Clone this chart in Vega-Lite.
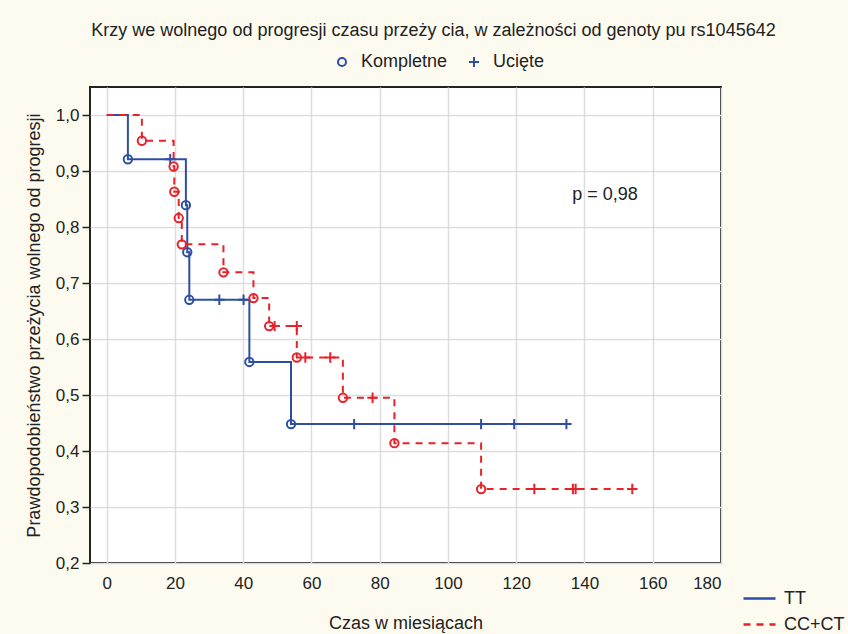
{
  "$schema": "https://vega.github.io/schema/vega-lite/v6.json",
  "width": 631,
  "height": 476,
  "autosize": {"type": "none"},
  "padding": {"left": 90, "top": 87, "right": 127, "bottom": 71},
  "background": "#FDFBF0",
  "config": {
    "view": {"fill": "white", "stroke": "#222222", "strokeWidth": 2},
    "font": "Liberation Sans",
    "axis": {"labelFont": "Liberation Sans", "titleFont": "Liberation Sans", "labelColor": "#222222", "titleColor": "#222222"},
    "legend": {"labelFont": "Liberation Sans", "labelColor": "#222222"}
  },
  "title": {
    "text": "Krzy we wolnego od progresji czasu przeży cia, w zależności od genoty pu rs1045642",
    "fontSize": 18,
    "fontWeight": "normal",
    "color": "#222222",
    "anchor": "middle",
    "frame": "group",
    "dx": 28,
    "offset": 13
  },
  "datasets": {
    "krzywe": [
      {"czas": 0, "p": 1.0, "grupa": "TT"},
      {"czas": 6.2, "p": 0.921, "grupa": "TT"},
      {"czas": 23.2, "p": 0.839, "grupa": "TT"},
      {"czas": 23.6, "p": 0.755, "grupa": "TT"},
      {"czas": 24.2, "p": 0.67, "grupa": "TT"},
      {"czas": 41.8, "p": 0.559, "grupa": "TT"},
      {"czas": 54.0, "p": 0.448, "grupa": "TT"},
      {"czas": 134.7, "p": 0.448, "grupa": "TT"},
      {"czas": 0, "p": 1.0, "grupa": "CC+CT"},
      {"czas": 10.3, "p": 0.954, "grupa": "CC+CT"},
      {"czas": 19.6, "p": 0.908, "grupa": "CC+CT"},
      {"czas": 19.8, "p": 0.863, "grupa": "CC+CT"},
      {"czas": 21.1, "p": 0.816, "grupa": "CC+CT"},
      {"czas": 22.0, "p": 0.769, "grupa": "CC+CT"},
      {"czas": 34.2, "p": 0.719, "grupa": "CC+CT"},
      {"czas": 43.0, "p": 0.673, "grupa": "CC+CT"},
      {"czas": 47.6, "p": 0.623, "grupa": "CC+CT"},
      {"czas": 55.7, "p": 0.567, "grupa": "CC+CT"},
      {"czas": 69.2, "p": 0.495, "grupa": "CC+CT"},
      {"czas": 84.3, "p": 0.414, "grupa": "CC+CT"},
      {"czas": 109.7, "p": 0.332, "grupa": "CC+CT"},
      {"czas": 154.0, "p": 0.332, "grupa": "CC+CT"}
    ],
    "punkty": [
      {"czas": 6.2, "p": 0.921, "grupa": "TT", "typ": "Kompletne"},
      {"czas": 18.6, "p": 0.921, "grupa": "TT", "typ": "Ucięte"},
      {"czas": 23.2, "p": 0.839, "grupa": "TT", "typ": "Kompletne"},
      {"czas": 23.6, "p": 0.755, "grupa": "TT", "typ": "Kompletne"},
      {"czas": 24.2, "p": 0.67, "grupa": "TT", "typ": "Kompletne"},
      {"czas": 33.0, "p": 0.67, "grupa": "TT", "typ": "Ucięte"},
      {"czas": 40.1, "p": 0.67, "grupa": "TT", "typ": "Ucięte"},
      {"czas": 41.8, "p": 0.559, "grupa": "TT", "typ": "Kompletne"},
      {"czas": 54.0, "p": 0.448, "grupa": "TT", "typ": "Kompletne"},
      {"czas": 72.5, "p": 0.448, "grupa": "TT", "typ": "Ucięte"},
      {"czas": 109.7, "p": 0.448, "grupa": "TT", "typ": "Ucięte"},
      {"czas": 119.4, "p": 0.448, "grupa": "TT", "typ": "Ucięte"},
      {"czas": 134.7, "p": 0.448, "grupa": "TT", "typ": "Ucięte"},
      {"czas": 10.3, "p": 0.954, "grupa": "CC+CT", "typ": "Kompletne"},
      {"czas": 19.6, "p": 0.908, "grupa": "CC+CT", "typ": "Kompletne"},
      {"czas": 19.8, "p": 0.863, "grupa": "CC+CT", "typ": "Kompletne"},
      {"czas": 21.1, "p": 0.816, "grupa": "CC+CT", "typ": "Kompletne"},
      {"czas": 22.0, "p": 0.769, "grupa": "CC+CT", "typ": "Kompletne"},
      {"czas": 34.2, "p": 0.719, "grupa": "CC+CT", "typ": "Kompletne"},
      {"czas": 43.0, "p": 0.673, "grupa": "CC+CT", "typ": "Kompletne"},
      {"czas": 47.6, "p": 0.623, "grupa": "CC+CT", "typ": "Kompletne"},
      {"czas": 49.2, "p": 0.623, "grupa": "CC+CT", "typ": "Ucięte"},
      {"czas": 55.7, "p": 0.623, "grupa": "CC+CT", "typ": "Ucięte"},
      {"czas": 55.7, "p": 0.567, "grupa": "CC+CT", "typ": "Kompletne"},
      {"czas": 58.2, "p": 0.567, "grupa": "CC+CT", "typ": "Ucięte"},
      {"czas": 65.5, "p": 0.567, "grupa": "CC+CT", "typ": "Ucięte"},
      {"czas": 69.2, "p": 0.495, "grupa": "CC+CT", "typ": "Kompletne"},
      {"czas": 77.9, "p": 0.495, "grupa": "CC+CT", "typ": "Ucięte"},
      {"czas": 84.3, "p": 0.414, "grupa": "CC+CT", "typ": "Kompletne"},
      {"czas": 109.7, "p": 0.332, "grupa": "CC+CT", "typ": "Kompletne"},
      {"czas": 125.3, "p": 0.332, "grupa": "CC+CT", "typ": "Ucięte"},
      {"czas": 136.6, "p": 0.332, "grupa": "CC+CT", "typ": "Ucięte"},
      {"czas": 137.4, "p": 0.332, "grupa": "CC+CT", "typ": "Ucięte"},
      {"czas": 154.0, "p": 0.332, "grupa": "CC+CT", "typ": "Ucięte"}
    ],
    "adnotacja": [
      {"czas": 146, "p": 0.857, "tekst": "p = 0,98"}
    ]
  },
  "layer": [
    {
      "data": {"name": "krzywe"},
      "mark": {"type": "line", "interpolate": "step-after", "strokeWidth": 2},
      "encoding": {
        "x": {
          "field": "czas", "type": "quantitative",
          "scale": {"domain": [-4.9, 180], "nice": false, "zero": false},
          "axis": {
            "values": [0, 20, 40, 60, 80, 100, 120, 140, 160, 180],
            "title": "Czas w miesiącach",
            "titleFontSize": 18, "titleFontWeight": "normal", "titlePadding": 23,
            "labelFontSize": 17, "labelPadding": 12,
            "domain": false, "tickSize": 0,
            "grid": true, "gridColor": "#DDDDDD", "gridWidth": 1.5
          }
        },
        "y": {
          "field": "p", "type": "quantitative",
          "scale": {"domain": [0.2, 1.05], "nice": false, "zero": false},
          "axis": {
            "values": [0.2, 0.3, 0.4, 0.5, 0.6, 0.7, 0.8, 0.9, 1.0],
            "format": ".1f",
            "labelExpr": "replace(datum.label, '.', ',')",
            "title": "Prawdopodobieństwo przeżycia wolnego od progresji",
            "titleFontSize": 18, "titleFontWeight": "normal", "titlePadding": 12,
            "labelFontSize": 17, "labelPadding": 3,
            "domain": false, "tickSize": 8, "tickColor": "#222222", "tickWidth": 1.5,
            "grid": true, "gridColor": "#DDDDDD", "gridWidth": 1.5
          }
        },
        "color": {
          "field": "grupa", "type": "nominal",
          "scale": {"domain": ["TT", "CC+CT"], "range": ["#2D4EA2", "#E8222A"]},
          "legend": {
            "title": null, "orient": "none", "legendX": 658, "legendY": 500,
            "symbolType": "M-1.6,0H1.6", "symbolSize": 400, "symbolStrokeWidth": 2.5,
            "labelFontSize": 18, "labelOffset": 13, "rowPadding": 5
          }
        },
        "strokeDash": {
          "field": "grupa", "type": "nominal",
          "scale": {"domain": ["TT", "CC+CT"], "range": [[1, 0], [7, 6]]},
          "legend": {
            "title": null, "orient": "none", "legendX": 658, "legendY": 500,
            "symbolType": "M-1.6,0H1.6", "symbolSize": 400, "symbolStrokeWidth": 2.5,
            "labelFontSize": 18, "labelOffset": 13, "rowPadding": 5
          }
        },
        "order": {"field": "czas", "type": "quantitative"}
      }
    },
    {
      "data": {"name": "punkty"},
      "mark": {"type": "point", "filled": false, "strokeWidth": 2, "opacity": 1, "size": 70},
      "encoding": {
        "x": {"field": "czas", "type": "quantitative"},
        "y": {"field": "p", "type": "quantitative"},
        "stroke": {
          "field": "grupa", "type": "nominal",
          "scale": {"domain": ["TT", "CC+CT"], "range": ["#2D4EA2", "#E8222A"]},
          "legend": null
        },
        "shape": {
          "field": "typ", "type": "nominal",
          "scale": {"domain": ["Kompletne", "Ucięte"], "range": ["circle", "M-1.25,0H1.25M0,-1.25V1.25"]},
          "legend": {
            "title": null, "orient": "none", "direction": "horizontal",
            "legendX": 243, "legendY": -34,
            "symbolStrokeColor": "#2D4EA2", "symbolFillColor": "transparent",
            "symbolStrokeWidth": 2, "symbolSize": 64,
            "labelFontSize": 18, "labelOffset": 10, "columnPadding": 17
          }
        }
      }
    },
    {
      "data": {"name": "adnotacja"},
      "mark": {"type": "text", "fontSize": 18, "color": "#222222", "align": "center", "baseline": "middle"},
      "encoding": {
        "x": {"field": "czas", "type": "quantitative"},
        "y": {"field": "p", "type": "quantitative"},
        "text": {"field": "tekst"}
      }
    }
  ]
}
